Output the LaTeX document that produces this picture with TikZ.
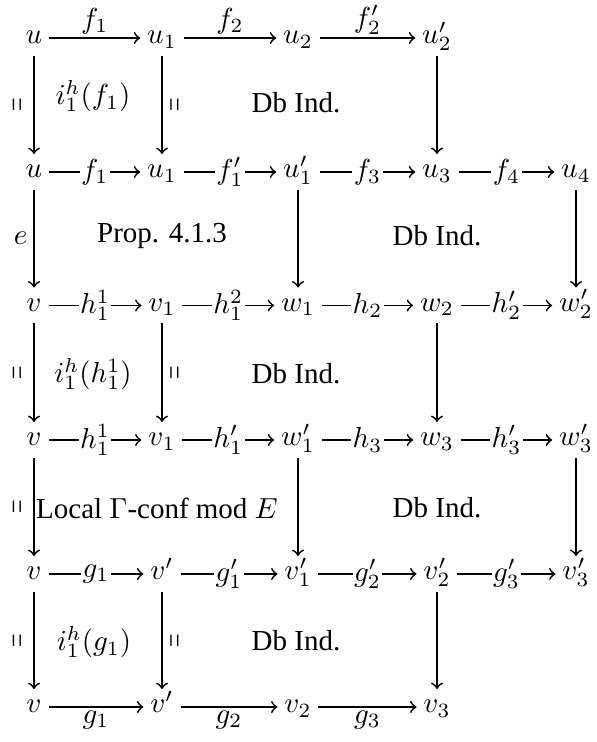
\documentclass[tikz,border=0pt]{standalone}
\usepackage[no-math]{fontspec}
\setmainfont{Liberation Serif}
\usepackage{graphicx}
\newcommand{\eqlab}{\rotatebox{90}{\scalebox{0.6}[1.2]{$=$}}}
\begin{document}
\begin{tikzpicture}[x=0.345pt,y=-0.345pt]
\tikzset{
  obj/.style={inner xsep=2.2pt, inner ysep=1pt, text height=7pt, text depth=3pt},
  ar/.style={->, line width=0.6pt},
  lab/.style={fill=white, inner xsep=0.5pt, inner ysep=0.3pt},
  labup/.style={above, inner sep=1pt},
  labdn/.style={below, inner sep=1pt},
  eqL/.style={left, inner sep=2.6pt},
  eqR/.style={right, inner sep=2.6pt},
  region/.style={inner sep=0pt}
}
\useasboundingbox (0,0) rectangle (596,742);
% rows
\def\ra{38}\def\rb{172}\def\rc{305.5}\def\rd{440}\def\re{574}\def\rf{707}
\def\ca{34}\def\cb{162}\def\cc{298}\def\cd{437}\def\ce{576}
% row 1
\node[obj] (A1) at (\ca,\ra) {$u$};
\node[obj] (A2) at (\cb,\ra) {$u_1$};
\node[obj] (A3) at (\cc,\ra) {$u_2$};
\node[obj] (A4) at (\cd,\ra) {$u_2'$};
% row 2
\node[obj] (B1) at (\ca,\rb) {$u$};
\node[obj] (B2) at (\cb,\rb) {$u_1$};
\node[obj] (B3) at (\cc,\rb) {$u_1'$};
\node[obj] (B4) at (\cd,\rb) {$u_3$};
\node[obj] (B5) at (\ce,\rb) {$u_4$};
% row 3
\node[obj] (C1) at (\ca,\rc) {$v$};
\node[obj] (C2) at (\cb,\rc) {$v_1$};
\node[obj] (C3) at (\cc,\rc) {$w_1$};
\node[obj] (C4) at (\cd,\rc) {$w_2$};
\node[obj] (C5) at (\ce,\rc) {$w_2'$};
% row 4
\node[obj] (D1) at (\ca,\rd) {$v$};
\node[obj] (D2) at (\cb,\rd) {$v_1$};
\node[obj] (D3) at (\cc,\rd) {$w_1'$};
\node[obj] (D4) at (\cd,\rd) {$w_3$};
\node[obj] (D5) at (\ce,\rd) {$w_3'$};
% row 5
\node[obj] (E1) at (\ca,\re) {$v$};
\node[obj] (E2) at (\cb,\re) {$v'$};
\node[obj] (E3) at (\cc,\re) {$v_1'$};
\node[obj] (E4) at (\cd,\re) {$v_2'$};
\node[obj] (E5) at (\ce,\re) {$v_3'$};
% row 6
\node[obj] (F1) at (\ca,\rf) {$v$};
\node[obj] (F2) at (\cb,\rf) {$v'$};
\node[obj] (F3) at (\cc,\rf) {$v_2$};
\node[obj] (F4) at (\cd,\rf) {$v_3$};
% horizontal arrows
\draw[ar] (A1) -- node[labup]{$f_1$} (A2);
\draw[ar] (A2) -- node[labup]{$f_2$} (A3);
\draw[ar] (A3) -- node[labup]{$f_2'$} (A4);
\draw[ar] (B1) -- node[lab]{$f_1$} (B2);
\draw[ar] (B2) -- node[lab]{$f_1'$} (B3);
\draw[ar] (B3) -- node[lab]{$f_3$} (B4);
\draw[ar] (B4) -- node[lab]{$f_4$} (B5);
\draw[ar] (C1) -- node[lab]{$h_1^1$} (C2);
\draw[ar] (C2) -- node[lab]{$h_1^2$} (C3);
\draw[ar] (C3) -- node[lab]{$h_2$} (C4);
\draw[ar] (C4) -- node[lab]{$h_2'$} (C5);
\draw[ar] (D1) -- node[lab]{$h_1^1$} (D2);
\draw[ar] (D2) -- node[lab]{$h_1'$} (D3);
\draw[ar] (D3) -- node[lab]{$h_3$} (D4);
\draw[ar] (D4) -- node[lab]{$h_3'$} (D5);
\draw[ar] (E1) -- node[lab]{$g_1$} (E2);
\draw[ar] (E2) -- node[lab]{$g_1'$} (E3);
\draw[ar] (E3) -- node[lab]{$g_2'$} (E4);
\draw[ar] (E4) -- node[lab]{$g_3'$} (E5);
\draw[ar] (F1) -- node[labdn]{$g_1$} (F2);
\draw[ar] (F2) -- node[labdn]{$g_2$} (F3);
\draw[ar] (F3) -- node[labdn]{$g_3$} (F4);
% vertical arrows
\draw[ar] (A1) -- node[eqL]{\eqlab} (B1);
\draw[ar] (A2) -- node[eqR]{\eqlab} (B2);
\draw[ar] (A4) -- (B4);
\draw[ar] (B1) -- node[left, inner sep=2pt]{$e$} (C1);
\draw[ar] (B3) -- (C3);
\draw[ar] (B5) -- (C5);
\draw[ar] (C1) -- node[eqL]{\eqlab} (D1);
\draw[ar] (C2) -- node[eqR]{\eqlab} (D2);
\draw[ar] (C4) -- (D4);
\draw[ar] (D1) -- node[eqL]{\eqlab} (E1);
\draw[ar] (D3) -- (E3);
\draw[ar] (D5) -- (E5);
\draw[ar] (E1) -- node[eqL]{\eqlab} (F1);
\draw[ar] (E2) -- node[eqR]{\eqlab} (F2);
\draw[ar] (E4) -- (F4);
% region labels
\node[region] (L1) at (93,96) {$i_1^h(f_1)$};
\node[region] (L2) at (296,103) {Db Ind.};
\node[region] (L3) at (162,236) {Prop. 4.1.3};
\node[region] (L4) at (437,236) {Db Ind.};
\node[region] (L5) at (93,374) {$i_1^h(h_1^1)$};
\node[region] (L6) at (296,374) {Db Ind.};
\node[region] (L7) at (157,508) {Local $\Gamma$-conf mod $E$};
\node[region] (L8) at (437,508) {Db Ind.};
\node[region] (L9) at (94,642) {$i_1^h(g_1)$};
\node[region] (L10) at (296,641) {Db Ind.};
\end{tikzpicture}
\end{document}
